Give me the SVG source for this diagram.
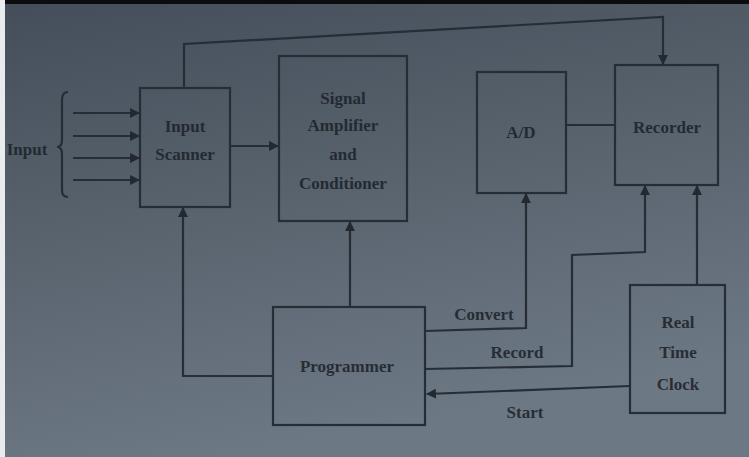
<svg xmlns="http://www.w3.org/2000/svg" width="749" height="457" viewBox="0 0 749 457">
<defs>
<linearGradient id="bg" x1="0" y1="0" x2="0.3" y2="1">
<stop offset="0" stop-color="#434e5a"/>
<stop offset="0.5" stop-color="#58636e"/>
<stop offset="1" stop-color="#6d7885"/>
</linearGradient>
<marker id="ah" viewBox="0 0 10 10" refX="9" refY="5" markerWidth="4.5" markerHeight="4.5" orient="auto" markerUnits="strokeWidth">
<path d="M0,0 L10,5 L0,10 z" fill="#23292f"/>
</marker>
<style>
.box{fill:none;stroke:#272d35;stroke-width:2.2}
.ln{fill:none;stroke:#272d35;stroke-width:2.2}
.ar{fill:none;stroke:#272d35;stroke-width:2.2;marker-end:url(#ah)}
text{font-family:"Liberation Serif","Times New Roman",serif;font-size:17px;fill:#1c2128;text-anchor:middle;font-weight:bold;opacity:0.85}
</style>
</defs>
<rect x="0" y="0" width="749" height="457" fill="url(#bg)"/>
<rect x="0" y="0" width="749" height="4" fill="#0b0c0e"/>
<rect x="0" y="0" width="5" height="457" fill="#e9ecef"/>

<g id="input">
<text x="27" y="155" font-size="15">Input</text>
<path class="ln" d="M68,92 Q62,92 62,100 L62,140 Q62,147 57,147 Q62,147 62,154 L62,190 Q62,197 68,197"/>
</g>

<g id="input-scanner">
<rect class="box" x="140" y="88" width="90" height="119"/>
<text x="185" y="132">Input</text>
<text x="185" y="160">Scanner</text>
</g>

<g id="signal-amplifier">
<rect class="box" x="279" y="56" width="128" height="165"/>
<text x="343" y="104">Signal</text>
<text x="343" y="131">Amplifier</text>
<text x="343" y="160">and</text>
<text x="343" y="189">Conditioner</text>
</g>

<g id="ad">
<rect class="box" x="477" y="72" width="89" height="121"/>
<text x="521" y="138">A/D</text>
</g>

<g id="recorder">
<rect class="box" x="615" y="65" width="103" height="120"/>
<text x="667" y="133">Recorder</text>
</g>

<g id="programmer">
<rect class="box" x="273" y="307" width="152" height="118"/>
<text x="347" y="372">Programmer</text>
</g>

<g id="clock">
<rect class="box" x="630" y="285" width="95" height="128"/>
<text x="678" y="328">Real</text>
<text x="678" y="358">Time</text>
<text x="678" y="390">Clock</text>
</g>

<g id="connectors">
<line class="ar" x1="73" y1="113" x2="139" y2="113"/>
<line class="ar" x1="73" y1="136" x2="139" y2="136"/>
<line class="ar" x1="73" y1="158" x2="139" y2="158"/>
<line class="ar" x1="73" y1="180" x2="139" y2="180"/>
<line class="ar" x1="230" y1="146" x2="278" y2="146"/>
<line class="ln" x1="566" y1="125" x2="615" y2="125"/>
<path class="ar" d="M184,88 L184,44 L663,17 L663,64"/>
<path class="ar" d="M350,307 L350,222"/>
<path class="ar" d="M273,376 L183,376 L183,208"/>
<path class="ar" d="M425,331 L526,328 L526,194"/>
<path class="ar" d="M425,369 L572,366 L572,255 L645,252 L645,186"/>
<path class="ar" d="M630,386 L427,394"/>
<path class="ar" d="M697,285 L697,186"/>
<text x="484" y="320">Convert</text>
<text x="517" y="358">Record</text>
<text x="525" y="418">Start</text>
</g>
</svg>
